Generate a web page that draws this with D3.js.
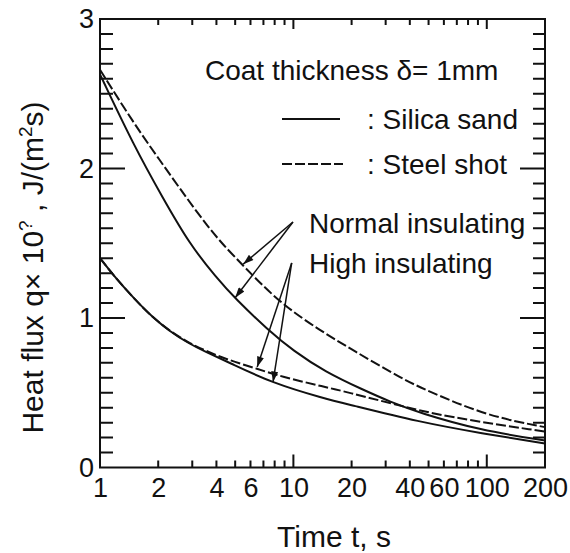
<!DOCTYPE html>
<html>
<head>
<meta charset="utf-8">
<script src="https://cdn.jsdelivr.net/npm/d3@7"></script>
<style>
  html, body { margin: 0; padding: 0; background: #fff; }
  svg { display: block; font-family: "Liberation Sans", Arial, Helvetica, sans-serif; }
</style>
</head>
<body>
<div id="chart"></div>
<script>
// ---------------- data ----------------
const xTickLabels = [1, 2, 4, 6, 10, 20, 40, 60, 100, 200];
const xMajorTicks = [1, 10, 100];
const xMinorTicks = [2, 3, 4, 5, 6, 7, 8, 9, 20, 30, 40, 50, 60, 70, 80, 90, 200];
const yTickLabels = [0, 1, 2, 3];
const yMinorTicks = [0.1, 0.2, 0.3, 0.4, 0.5, 0.6, 0.7, 0.8, 0.9, 1.1, 1.2, 1.3, 1.4, 1.5, 1.6, 1.7, 1.8, 1.9,
                     2.1, 2.2, 2.3, 2.4, 2.5, 2.6, 2.7, 2.8, 2.9];

// Normal insulating, silica sand (solid)
const normalSilicaT = [1, 1.5, 2.12, 2.92, 4, 5, 7.39, 10, 14.6, 22.9, 31.6, 45, 92, 200];
const normalSilicaQ = [2.63, 2.15, 1.80, 1.49, 1.27, 1.13, 0.92, 0.78, 0.64, 0.52, 0.44, 0.365, 0.25, 0.18];
// Normal insulating, steel shot (dashed)
const normalSteelT = [1, 1.5, 2, 2.85, 3.62, 4.33, 5.5, 8.5, 14, 20.3, 36.9, 49, 100, 200];
const normalSteelQ = [2.66, 2.30, 2.07, 1.79, 1.61, 1.49, 1.35, 1.10, 0.91, 0.785, 0.59, 0.515, 0.345, 0.27];
// High insulating, silica sand (solid)
const highSilicaT = [1, 1.2, 1.5, 1.86, 2.3, 2.85, 3.49, 4.59, 7.75, 14.6, 18.9, 45, 92, 200];
const highSilicaQ = [1.40, 1.27, 1.13, 1.007, 0.91, 0.833, 0.775, 0.706, 0.565, 0.46, 0.425, 0.304, 0.231, 0.16];
// High insulating, steel shot (dashed)
const highSteelT = [1, 1.2, 1.5, 1.86, 2.3, 2.85, 3.49, 4.59, 6.33, 8.53, 14.6, 18.9, 34.3, 62.3, 200];
const highSteelQ = [1.40, 1.27, 1.13, 1.007, 0.912, 0.837, 0.782, 0.72, 0.665, 0.61, 0.538, 0.505, 0.418, 0.338, 0.24];

// annotation arrows (data coordinates): [fromT, fromQ, toT, toQ]
const normalArrows = [[9.95, 1.642, 5.5, 1.36], [9.95, 1.642, 5.0, 1.135]];
const highArrows = [[9.8, 1.368, 6.5, 0.672], [9.8, 1.368, 7.85, 0.572]];

// ---------------- chart ----------------
const W = 570, H = 553;
const mLeft = 100, mRight = 545, mTop = 19, mBottom = 467.5;
const ink = "#111";
const FONT = "\"Liberation Sans\", Arial, Helvetica, sans-serif";

const svg = d3.select("#chart").append("svg")
  .attr("width", W).attr("height", H);

const x = d3.scaleLog().domain([1, 200]).range([mLeft, mRight]);
const y = d3.scaleLinear().domain([0, 3]).range([mBottom, mTop]);

svg.append("defs").append("marker")
  .attr("id", "arrow")
  .attr("viewBox", "0 0 12 8")
  .attr("refX", 12).attr("refY", 4)
  .attr("markerWidth", 12).attr("markerHeight", 7)
  .attr("markerUnits", "userSpaceOnUse")
  .attr("orient", "auto")
  .append("path").attr("d", "M0,0 L12,4 L0,8 Z").attr("fill", ink);

// frame plus all tick marks in one path, ticks positioned through the scales
const tickSpecs = [
  { vals: xMinorTicks, axis: "x", at: mBottom, len: -7 },
  { vals: xMajorTicks, axis: "x", at: mBottom, len: -13 },
  { vals: xMinorTicks, axis: "x", at: mTop, len: 6 },
  { vals: xMajorTicks, axis: "x", at: mTop, len: 10 },
  { vals: yMinorTicks, axis: "y", at: mLeft, len: 13 },
  { vals: yTickLabels, axis: "y", at: mLeft, len: 25 },
  { vals: yMinorTicks, axis: "y", at: mRight, len: -12 },
  { vals: yTickLabels, axis: "y", at: mRight, len: -25 }
];
const fp = d3.path();
fp.moveTo(mLeft, mTop); fp.lineTo(mRight, mTop); fp.lineTo(mRight, mBottom);
fp.lineTo(mLeft, mBottom); fp.closePath();
tickSpecs.forEach(s => s.vals.forEach(v => {
  if (s.axis === "x") { fp.moveTo(x(v), s.at); fp.lineTo(x(v), s.at + s.len); }
  else { fp.moveTo(s.at, y(v)); fp.lineTo(s.at + s.len, y(v)); }
}));
svg.append("path").attr("d", fp.toString())
  .attr("fill", "none").attr("stroke", ink).attr("stroke-width", 2);

// tick labels through d3 axes
function styleAxis(g) {
  g.select(".domain").remove();
  g.selectAll(".tick line").remove();
  g.selectAll(".tick text").attr("fill", ink).attr("font-size", 27).attr("font-family", FONT);
}
svg.append("g").attr("transform", `translate(0,${mBottom})`)
  .call(d3.axisBottom(x).tickValues(xTickLabels).tickSize(0).tickPadding(10).tickFormat(d3.format("d")))
  .call(styleAxis);
svg.append("g").attr("transform", `translate(${mLeft},0)`)
  .call(d3.axisLeft(y).tickValues(yTickLabels).tickSize(0).tickPadding(6).tickFormat(d3.format("d")))
  .call(styleAxis);

// curves
const line = d3.line().x(d => x(d[0])).y(d => y(d[1])).curve(d3.curveBasis);
const series = [
  { t: normalSilicaT, q: normalSilicaQ, dash: null },
  { t: normalSteelT, q: normalSteelQ, dash: "10,3" },
  { t: highSilicaT, q: highSilicaQ, dash: null },
  { t: highSteelT, q: highSteelQ, dash: "10,3" }
];
series.forEach(s => {
  svg.append("path")
    .datum(s.t.map((t, i) => [t, s.q[i]]))
    .attr("d", line)
    .attr("fill", "none")
    .attr("stroke", ink)
    .attr("stroke-width", 2)
    .attr("stroke-dasharray", s.dash);
});

// arrows
normalArrows.concat(highArrows).forEach(a => {
  svg.append("line")
    .attr("x1", x(a[0])).attr("y1", y(a[1]))
    .attr("x2", x(a[2])).attr("y2", y(a[3]))
    .attr("stroke", ink).attr("stroke-width", 1.5)
    .attr("marker-end", "url(#arrow)");
});

// legend / annotations
const txt = (xx, yy, s, size, anchor) => svg.append("text")
  .attr("x", xx).attr("y", yy).attr("font-size", size)
  .attr("fill", ink).attr("text-anchor", anchor || "start").text(s);

txt(205, 80, "Coat thickness \u03b4= 1mm", 28);
svg.append("line").attr("x1", 282).attr("x2", 340).attr("y1", 119).attr("y2", 119)
  .attr("stroke", ink).attr("stroke-width", 2);
txt(367, 129, ": Silica sand", 28);
svg.append("line").attr("x1", 282).attr("x2", 343).attr("y1", 164).attr("y2", 164)
  .attr("stroke", ink).attr("stroke-width", 2).attr("stroke-dasharray", "10,3");
txt(367, 174, ": Steel shot", 28);
txt(309, 233, "Normal insulating", 28);
txt(309, 273, "High insulating", 28);

// axis titles
txt(334, 547, "Time t, s", 30, "middle");
const yt = svg.append("text")
  .attr("transform", "translate(43,267.5) rotate(-90)")
  .attr("text-anchor", "middle").attr("font-size", 30).attr("fill", ink);
yt.append("tspan").text("Heat flux q\u00d7 10");
yt.append("tspan").attr("dy", -11).attr("font-size", 19).text("?");
yt.append("tspan").attr("dy", 11).text("  , J/(m");
yt.append("tspan").attr("dy", -11).attr("font-size", 19).text("2");
yt.append("tspan").attr("dy", 11).text("s)");
</script>
</body>
</html>
